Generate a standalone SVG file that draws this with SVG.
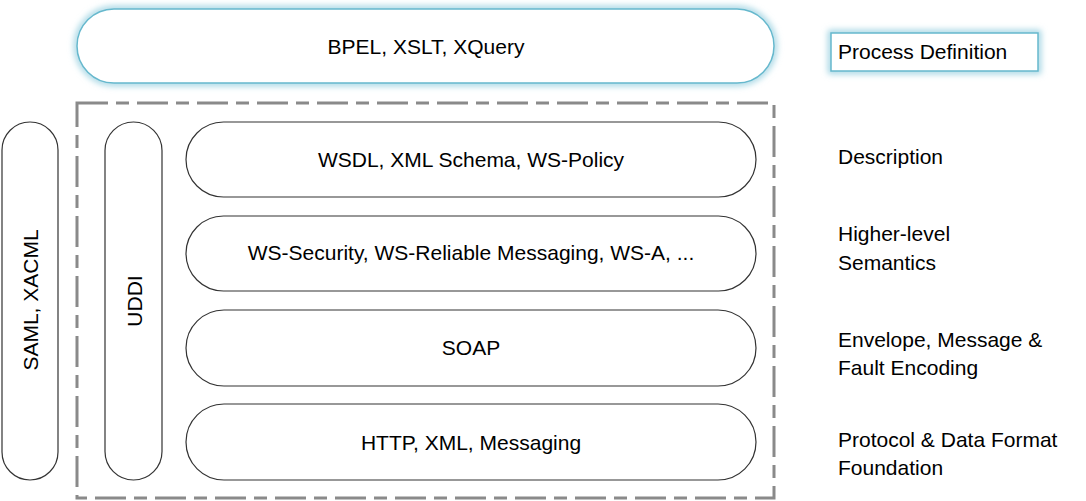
<svg xmlns="http://www.w3.org/2000/svg" width="1086" height="501" viewBox="0 0 1086 501">
  <defs>
    <filter id="glow" x="-20%" y="-50%" width="140%" height="200%">
      <feGaussianBlur stdDeviation="3"/>
    </filter>
    <style>
      text { font-family: "Liberation Sans", Arial, sans-serif; font-size: 21px; fill: #000; }
      .mid { text-anchor: middle; }
      .pill { fill: #fff; stroke: #333; stroke-width: 1.2; }
      .glowline { fill: none; stroke: #9fd3e2; stroke-width: 6; }
      .blue { fill: #fff; stroke: #66b8cd; stroke-width: 1.5; }
      .dash { fill: none; stroke: #8a8a8a; stroke-width: 3; stroke-dasharray: 31 8 13 8; }
    </style>
  </defs>
  <rect width="1086" height="501" fill="#fff"/>

  <g id="process-layer">
    <rect x="77" y="9" width="697" height="74" rx="37" class="glowline" filter="url(#glow)"/>
    <rect x="77" y="9" width="697" height="74" rx="37" class="blue"/>
    <text x="426" y="54" class="mid">BPEL, XSLT, XQuery</text>
  </g>

  <g id="process-label">
    <rect x="831" y="33" width="207" height="38" class="glowline" filter="url(#glow)"/>
    <rect x="831" y="33" width="207" height="38" class="blue"/>
    <text x="838" y="59">Process Definition</text>
  </g>

  <g id="connectors">
    <rect x="77" y="103" width="697" height="395" class="dash"/>
  </g>

  <g id="saml">
    <rect x="2" y="122" width="56" height="358" rx="28" class="pill"/>
    <text class="mid" transform="translate(30.5,300) rotate(-90)" x="0" y="7.5">SAML, XACML</text>
  </g>

  <g id="uddi">
    <rect x="105" y="122" width="57" height="358" rx="28.5" class="pill"/>
    <text class="mid" transform="translate(134,301) rotate(-90)" x="0" y="7.5">UDDI</text>
  </g>

  <g id="wsdl">
    <rect x="186" y="122" width="570" height="75" rx="37.5" class="pill"/>
    <text x="471" y="167" class="mid">WSDL, XML Schema, WS-Policy</text>
  </g>

  <g id="ws-security">
    <rect x="186" y="216" width="570" height="75" rx="37.5" class="pill"/>
    <text x="471" y="260" class="mid">WS-Security, WS-Reliable Messaging, WS-A, ...</text>
  </g>

  <g id="soap">
    <rect x="186" y="310" width="570" height="76" rx="38" class="pill"/>
    <text x="471" y="355" class="mid">SOAP</text>
  </g>

  <g id="http">
    <rect x="186" y="404" width="570" height="76" rx="38" class="pill"/>
    <text x="471" y="449.5" class="mid">HTTP, XML, Messaging</text>
  </g>

  <g id="labels">
    <text x="838" y="163.5">Description</text>
    <text x="838" y="241">Higher-level</text>
    <text x="838" y="269.5">Semantics</text>
    <text x="838" y="346.5">Envelope, Message &amp;</text>
    <text x="838" y="374.5">Fault Encoding</text>
    <text x="838" y="446.5">Protocol &amp; Data Format</text>
    <text x="838" y="474.5">Foundation</text>
  </g>
</svg>
